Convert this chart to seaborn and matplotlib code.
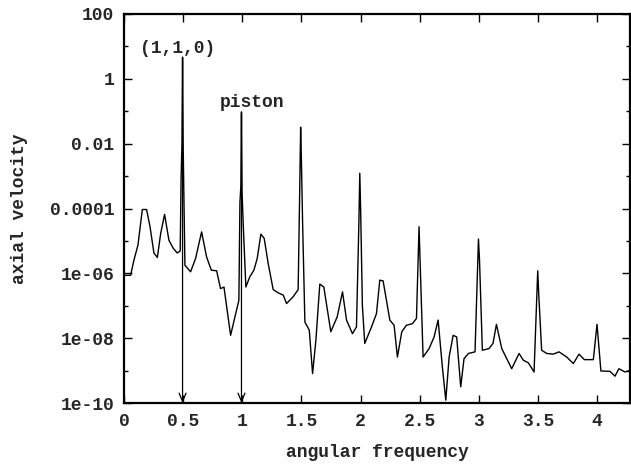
import numpy as np
import pandas as pd
import seaborn as sns
import matplotlib
matplotlib.use("Agg")
import matplotlib.pyplot as plt
from matplotlib.ticker import FixedLocator, NullLocator, NullFormatter

# spectrum (log10 of axial velocity)
freq = [
    0.000, 0.056, 0.084, 0.118, 0.155, 0.191, 0.220, 0.253, 0.282, 0.310,
    0.343, 0.380, 0.417, 0.450, 0.475, 0.483, 0.490, 0.495, 0.500, 0.505,
    0.515, 0.563, 0.605, 0.656, 0.698, 0.738, 0.783, 0.816, 0.845, 0.901,
    0.971, 0.980, 0.988, 0.993, 0.998, 1.008, 1.030, 1.064, 1.098, 1.126,
    1.157, 1.185, 1.219, 1.261, 1.303, 1.346, 1.374, 1.430, 1.472, 1.485,
    1.493, 1.500, 1.510, 1.529, 1.566, 1.594, 1.622, 1.655, 1.689, 1.748,
    1.802, 1.847, 1.881, 1.931, 1.965, 1.985, 1.993, 2.000, 2.015, 2.035,
    2.092, 2.134, 2.162, 2.190, 2.247, 2.283, 2.311, 2.348, 2.387, 2.438,
    2.472, 2.494, 2.500, 2.528, 2.579, 2.621, 2.655, 2.691, 2.720, 2.748,
    2.782, 2.812, 2.846, 2.874, 2.911, 2.967, 2.996, 3.005, 3.029, 3.085,
    3.119, 3.148, 3.193, 3.235, 3.277, 3.339, 3.376, 3.418, 3.466, 3.497,
    3.505, 3.530, 3.573, 3.629, 3.677, 3.742, 3.798, 3.846, 3.891, 3.967,
    3.998, 4.031, 4.107, 4.150, 4.183, 4.234, 4.280,
]
log10_velocity = [
    -6.06, -6.06, -5.59, -5.13, -4.03, -4.03, -4.56, -5.37, -5.51, -4.77,
    -4.18, -4.98, -5.23, -5.37, -5.31, -3.00, -2.00, 0.67, -2.00, -3.30,
    -5.75, -5.95, -5.54, -4.72, -5.49, -5.90, -5.92, -6.47, -6.42, -7.91,
    -6.83, -3.80, -3.30, -1.02, -3.50, -4.50, -6.42, -6.10, -5.90, -5.54,
    -4.79, -4.92, -5.70, -6.50, -6.60, -6.67, -6.93, -6.72, -6.50, -3.50,
    -1.49, -2.60, -4.50, -7.50, -7.75, -9.09, -8.06, -6.33, -6.42, -7.80,
    -7.34, -6.57, -7.44, -7.86, -7.65, -4.50, -2.91, -4.00, -7.00, -8.16,
    -7.65, -7.24, -6.21, -6.23, -7.44, -7.60, -8.58, -7.80, -7.60, -7.55,
    -7.39, -4.56, -5.30, -8.58, -8.32, -7.96, -7.44, -8.89, -9.91, -8.58,
    -7.91, -7.96, -9.50, -8.63, -8.47, -8.42, -4.94, -5.60, -8.37, -8.32,
    -8.16, -7.57, -8.32, -8.63, -8.94, -8.47, -8.68, -8.76, -9.04, -5.92,
    -6.60, -8.37, -8.47, -8.49, -8.42, -8.58, -8.78, -8.49, -8.66, -8.66,
    -7.57, -9.01, -9.02, -9.17, -8.94, -9.04, -8.99,
]

x_ticks = [0, 0.5, 1, 1.5, 2, 2.5, 3, 3.5, 4]
x_tick_labels = ["0", "0.5", "1", "1.5", "2", "2.5", "3", "3.5", "4"]
y_ticks = [1e-10, 1e-8, 1e-6, 1e-4, 1e-2, 1, 100]
y_tick_labels = ["1e-10", "1e-08", "1e-06", "0.0001", "0.01", "1", "100"]
y_minor = [1e-9, 1e-7, 1e-5, 1e-3, 1e-1, 10]

# mode annotations: label, label position, arrow x, arrow start
modes = ["(1,1,0)", "piston"]
mode_label_x = [0.456, 1.078]
mode_label_y = [8.9, 0.18]
mode_arrow_x = [0.495, 0.993]
mode_arrow_top = [4.0, 0.08]

df = pd.DataFrame({"freq": freq, "vel": np.power(10.0, log10_velocity)})

sns.set_style("ticks")
plt.rcParams["font.family"] = ["Liberation Mono", "DejaVu Sans Mono"]
plt.rcParams["font.weight"] = "bold"

fig = plt.figure(figsize=(6.31, 4.66), dpi=100)
ax = fig.add_axes([0.1965, 0.135, 0.8025, 0.835])

sns.lineplot(data=df, x="freq", y="vel", ax=ax, color="black",
             linewidth=1.0, sort=False, estimator=None)

ax.set_yscale("log")
ax.set_xlim(0, 4.28)
ax.set_ylim(1e-10, 100)

ax.xaxis.set_major_locator(FixedLocator(x_ticks))
ax.set_xticklabels(x_tick_labels)
ax.xaxis.set_minor_locator(NullLocator())
ax.yaxis.set_major_locator(FixedLocator(y_ticks))
ax.set_yticklabels(y_tick_labels)
ax.yaxis.set_minor_locator(FixedLocator(y_minor))
ax.yaxis.set_minor_formatter(NullFormatter())

ax.tick_params(which="both", direction="in", top=True, right=True,
               labelsize=13, pad=7, width=1.0, color="black")
ax.tick_params(which="major", length=6)
ax.tick_params(which="minor", length=3)
for lab in ax.get_xticklabels() + ax.get_yticklabels():
    lab.set_fontweight("bold")

for s in ax.spines.values():
    s.set_linewidth(1.6)
    s.set_color("black")

for name, lx, ly, axx, top in zip(modes, mode_label_x, mode_label_y,
                                  mode_arrow_x, mode_arrow_top):
    ax.text(lx, ly, name, ha="center", va="center", fontsize=13,
            fontweight="bold")
    ax.annotate("", xy=(axx, 1e-10), xytext=(axx, top),
                arrowprops=dict(arrowstyle="->,head_length=0.6,head_width=0.25",
                                color="black", lw=0.9, shrinkA=0, shrinkB=0))

ax.set_xlabel("angular frequency", fontsize=13, fontweight="bold", labelpad=10)
ax.set_ylabel("axial velocity", fontsize=13, fontweight="bold", labelpad=16)

fig.savefig("out.png", dpi=100)
